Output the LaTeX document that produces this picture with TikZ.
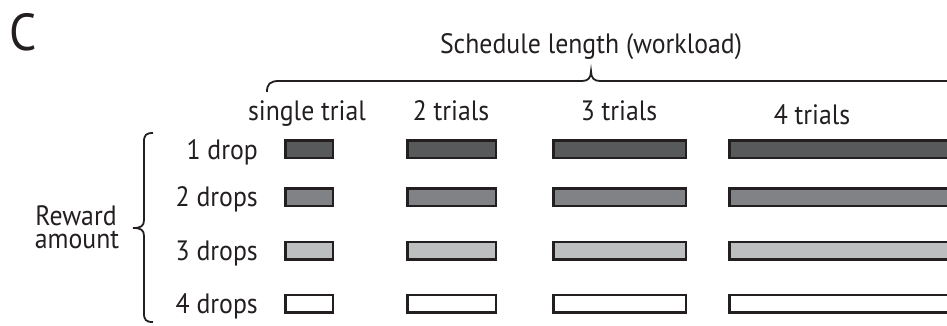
\documentclass[tikz,border=0pt]{standalone}
\usepackage{fontspec}
\setmainfont{PT Sans}[FakeStretch=0.92]
\usetikzlibrary{positioning}
\definecolor{inkline}{HTML}{231F20}
\definecolor{shadeone}{HTML}{58595B}
\definecolor{shadetwo}{HTML}{808285}
\definecolor{shadethree}{HTML}{BCBEC0}
\tikzset{
    bar/.style={draw=inkline, line width=2.5pt, inner sep=0pt, minimum height=17.5pt},
    lbl/.style={font=\fontsize{28}{24}\selectfont, text=inkline, inner sep=0pt},
    brace/.style={draw=inkline, line width=1.8pt},
}
\begin{document}
\begin{tikzpicture}[x=1pt, y=-1pt]

        \useasboundingbox (0,0) rectangle (947,325);
        \clip (0,0) rectangle (947,325);

        \node[lbl, anchor=base west, font=\fontsize{52}{52}\selectfont] (panel) at (9,50) {C};
        \node[lbl, anchor=base] (sched) at (591,53) {Schedule length (workload)};
        \node[lbl, anchor=base] (reward) at (76,225) {Reward};
        \node[lbl, anchor=base] (amount) at (77,248) {amount};

        \node[lbl, anchor=base] (t1) at (307,120) {single trial};
        \node[lbl, anchor=base] (t2) at (451,120) {2 trials};
        \node[lbl, anchor=base] (t3) at (619,120) {3 trials};
        \node[lbl, anchor=base] (t4) at (812,124) {4 trials};

        \node[lbl, anchor=base east] (d1) at (258,159) {1 drop};
        \node[lbl, anchor=base east] (d2) at (258,206) {2 drops};
        \node[lbl, anchor=base east] (d3) at (258,260) {3 drops};
        \node[lbl, anchor=base east] (d4) at (258,313) {4 drops};

        \node[bar, fill=shadeone, minimum width=47.5pt] (b11) at (309,149) {};
        \node[bar, fill=shadeone, minimum width=88.5pt] (b12) at (451.5,149) {};
        \node[bar, fill=shadeone, minimum width=132.5pt] (b13) at (619.5,149) {};
        \node[bar, fill=shadeone, minimum width=230pt] (b14) at (844.25,149) {};

        \node[bar, fill=shadetwo, minimum width=47.5pt] (b21) at (309,197) {};
        \node[bar, fill=shadetwo, minimum width=88.5pt] (b22) at (451.5,197) {};
        \node[bar, fill=shadetwo, minimum width=132.5pt] (b23) at (619.5,197) {};
        \node[bar, fill=shadetwo, minimum width=230pt] (b24) at (844.25,197) {};

        \node[bar, fill=shadethree, minimum width=47.5pt] (b31) at (309,250.5) {};
        \node[bar, fill=shadethree, minimum width=88.5pt] (b32) at (451.5,250.5) {};
        \node[bar, fill=shadethree, minimum width=132.5pt] (b33) at (619.5,250.5) {};
        \node[bar, fill=shadethree, minimum width=230pt] (b34) at (844.25,250.5) {};

        \node[bar, fill=white, minimum width=47.5pt] (b41) at (309,303.5) {};
        \node[bar, fill=white, minimum width=88.5pt] (b42) at (451.5,303.5) {};
        \node[bar, fill=white, minimum width=132.5pt] (b43) at (619.5,303.5) {};
        \node[bar, fill=white, minimum width=230pt] (b44) at (844.25,303.5) {};

        \draw[brace] (267,92) .. controls (267,84) and (270,81) .. (279,81) -- (582,81)
            .. controls (588,81) and (591,78) .. (591,71) .. controls (591,78) and (594,81) .. (600,81) -- (960,81);
        \draw[brace] (153,133) .. controls (146,133) and (144,135) .. (144,142) -- (144,220)
            .. controls (144,226) and (141,228) .. (133,228) .. controls (141,228) and (144,230) .. (144,236) -- (144,313)
            .. controls (144,320) and (146,322) .. (153,322);
    \end{tikzpicture}
\end{document}
